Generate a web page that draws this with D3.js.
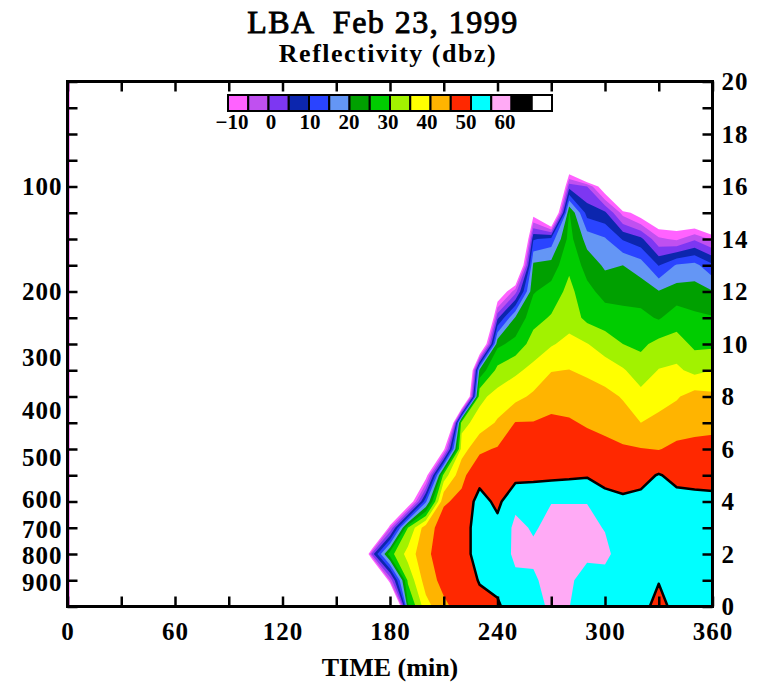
<!DOCTYPE html>
<html>
<head>
<meta charset="utf-8">
<script src="https://cdn.jsdelivr.net/npm/d3@7"></script>
<style>
  body { margin: 0; background: #fff; }
  svg text { font-family: "Liberation Serif", "DejaVu Serif", serif; fill: #000; }
</style>
</head>
<body>
<svg width="758" height="685"></svg>
<script>
// scan times (min), one reflectivity profile per scan
var times = [160, 170, 180, 190, 200, 210, 220, 230, 240, 250, 260, 270, 280, 290, 300, 310, 320, 330, 340, 350, 360]
// profile levels (km)
var heights = [0, 1, 2, 3, 4, 5, 6, 7, 8, 9, 10, 11, 12, 13, 14, 15, 16, 17]

// dbz from the ground up, null = no echo (levels past the end have no echo too)
var profiles = [
  [],
  [null, null, 2.5],
  [null, -4, 28, -5],
  [24, 31, 37, 30, -20],
  [38, 42.5, 44, 43, 14, -14],
  [44, 46.5, 47.5, 47, 44.5, 32, -12],
  [47, 47.5, 48, 48, 46, 44, 37.5, 33.3, -46],
  [48.5, 50.3, 52, 52, 52, 48, 44.2, 37, 33.7, 21.4, -31],
  [49.5, 51, 52, 51.5, 48.8, 46.8, 45.4, 40.6, 36.8, 31.4, 23.75, 3.9, -19],
  [52, 54, 56, 56, 54, 48.3, 47.3, 45.2, 38.5, 34, 26.7, 20.6, -2, -35],
  [53, 54.4, 55.8, 54.6, 52, 49.3, 47.4, 45.2, 40.9, 36.4, 32.1, 28.2, 24.6, 21.1, 9.4, -13.4],
  [56, 56.5, 57, 56, 54.9, 48.8, 47, 46, 43, 39.8, 34.5, 30.5, 27, 22, 12, -35],
  [55.1, 55.8, 56.5, 56, 54.9, 49.1, 47.5, 45.5, 43, 40.1, 36.5, 32.75, 31.5, 29, 27, 25.4, 3, -25],
  [52.5, 53, 56, 56, 54.9, 49.5, 47, 44.5, 42.5, 39, 35.2, 28.7, 26.5, 23, 18, 8, 0],
  [52.5, 53.5, 56, 54.8, 51.5, 48.5, 46.5, 43.5, 41.5, 37.5, 32.6, 27.4, 23.2, 19.2, 15.5, 6, -16],
  [52, 52.5, 53, 52.5, 50.8, 48, 45.6, 42.3, 39.6, 35.5, 30, 26.5, 23.2, 20, 9.5, -7],
  [52, 52.5, 53, 52.5, 51.2, 48.6, 45.2, 40, 36.4, 32.5, 28.9, 26.3, 22.7, 17.5, 6.4, -14],
  [48, 50.3, 52.5, 53, 52, 50.3, 44.8, 41.2, 38.3, 35.2, 31.5, 24.5, 20.3, 9.7, -4, -20],
  [52, 52.5, 53, 52.5, 51.5, 48.75, 46, 42.8, 39.5, 35.9, 32.2, 27.5, 22.1, 15.6, -6, -19],
  [52, 52.5, 53, 52.5, 51.2, 48.6, 46.2, 43.6, 42, 33.6, 28.9, 25.9, 22.2, 16.6, -0.8, -24],
  [52, 52, 52.5, 52, 51, 48.5, 46.3, 43.9, 41.1, 35, 28.9, 25.4, 20.3, 11, -6, -33]
]

var levels = [-10, -5, 0, 5, 10, 15, 20, 25, 30, 35, 40, 45, 50, 55, 60, 65]
var levelColors = ['#ff62ff', '#c050f0', '#7d37f2', '#0c26ae', '#2a44ff', '#6496f5', '#00a000', '#00cc00',
                   '#a2f200', '#ffff00', '#ffb400', '#ff2800', '#00ffff', '#ffaaf5', '#000000', '#ffffff']
var barLabels = [-10, 0, 10, 20, 30, 40, 50, 60]

var kmTicks = [0, 1, 2, 3, 4, 5, 6, 7, 8, 9, 10, 11, 12, 13, 14, 15, 16, 17, 18, 19, 20]
var timeTicks = [0, 30, 60, 90, 120, 150, 180, 210, 240, 270, 300, 330, 360]
var timeLabels = [0, 60, 120, 180, 240, 300, 360]
var pressures = [100, 200, 300, 400, 500, 600, 700, 800, 900]
var pressureHeights = [16.0, 12.0, 9.5, 7.45, 5.66, 4.06, 2.95, 1.96, 0.9]

var noEcho = -60

var svg = d3.select('svg')
var x = d3.scaleLinear().domain([0, 360]).range([67.5, 712.5])
var y = d3.scaleLinear().domain([0, 20]).range([606.5, 81.5])

// grid for the contour generator, x (time) runs fastest
var nx = times.length, ny = heights.length
var values = []
for (var j = 0; j < ny; j++) {
    for (var i = 0; i < nx; i++) {
        var v = profiles[i][j]
        values.push(v == null ? noEcho : v)
    }
}
function at(i, j) { return values[j * nx + i] }

var gridX = d3.scaleLinear().domain(d3.range(nx)).range(times)
var gridY = d3.scaleLinear().domain(d3.range(ny)).range(heights)

// unsmoothed marching-squares points sit half way along a cell edge,
// put them where the level really crosses that edge
function edgePoint(p, level) {
    var X = p[0], Y = p[1], xi, yi, a, b
    if (X % 1 === 0 && Y % 1 !== 0) {
        yi = Y - 0.5
        if (X <= 0) xi = 0
        else if (X >= nx) xi = nx - 1
        else { a = at(X - 1, yi); b = at(X, yi); xi = X - 1 + (level - a) / (b - a) }
    } else if (Y % 1 === 0 && X % 1 !== 0) {
        xi = X - 0.5
        if (Y <= 0) yi = 0
        else if (Y >= ny) yi = ny - 1
        else { a = at(xi, Y - 1); b = at(xi, Y); yi = Y - 1 + (level - a) / (b - a) }
    } else {
        xi = Math.max(0, Math.min(nx - 1, X - 0.5))
        yi = Math.max(0, Math.min(ny - 1, Y - 0.5))
    }
    return [x(gridX(xi)), y(gridY(yi))]
}

function shapePath(c) {
    return c.coordinates.map(function(poly){
        return poly.map(function(ring){
            return 'M' + ring.map(function(p){ return edgePoint(p, c.value) }).join('L') + 'Z'
        }).join('')
    }).join('')
}

var contours = d3.contours().size([nx, ny]).smooth(false).thresholds(levels)(values)

svg.append('clipPath').attr('id', 'plot')
    .append('rect')
    .attr('x', x(0)).attr('y', y(20))
    .attr('width', x(360) - x(0)).attr('height', y(0) - y(20))

var field = svg.append('g').attr('clip-path', 'url(#plot)')

field.selectAll('path.band')
    .data(contours)
    .enter()
    .append('path')
    .attr('class', 'band')
    .attr('d', shapePath)
    .attr('fill', function(d, i){ return levelColors[i] })
    .attr('fill-rule', 'evenodd')

// 50 dbz outline
field.append('path')
    .datum(contours.filter(function(c){ return c.value === 50 })[0])
    .attr('d', shapePath)
    .attr('fill', 'none')
    .attr('stroke', '#000')
    .attr('stroke-width', 2.5)
    .attr('stroke-linejoin', 'round')

// thin echo strip at time 0
field.append('rect')
    .attr('x', x(0)).attr('y', y(20))
    .attr('width', x(1.2) - x(0)).attr('height', y(0) - y(20))
    .attr('fill', levelColors[0])

function styleAxis(g) {
    g.attr('font-family', '"Liberation Serif", serif')
        .attr('font-size', 25)
        .attr('font-weight', 'bold')
    g.select('.domain').remove()
    g.selectAll('.tick line').attr('stroke', '#000').attr('stroke-width', 2.5)
    g.selectAll('.tick text').attr('fill', '#000').style('letter-spacing', '1px')
}

svg.append('g')
    .attr('transform', `translate(0, ${y(0)})`)
    .call(d3.axisBottom(x).tickValues(timeTicks).tickSize(-10).tickPadding(16)
        .tickFormat(function(d){ return timeLabels.indexOf(d) >= 0 ? d : '' }))
    .call(styleAxis)

svg.append('g')
    .attr('transform', `translate(0, ${y(20)})`)
    .call(d3.axisTop(x).tickValues(timeTicks).tickSize(-10).tickFormat(''))
    .call(styleAxis)

svg.append('g')
    .attr('transform', `translate(${x(0)}, 0)`)
    .call(d3.axisLeft(y).tickValues(kmTicks).tickSize(-10).tickFormat(''))
    .call(styleAxis)

svg.append('g')
    .attr('transform', `translate(${x(0)}, 0)`)
    .call(d3.axisLeft(y).tickValues(pressureHeights).tickSize(0).tickPadding(5)
        .tickFormat(function(d, i){ return pressures[i] }))
    .call(styleAxis)

svg.append('g')
    .attr('transform', `translate(${x(360)}, 0)`)
    .call(d3.axisRight(y).tickValues(kmTicks).tickSize(-10).tickPadding(9)
        .tickFormat(function(d){ return d % 2 ? '' : d }))
    .call(styleAxis)

svg.append('rect')
    .attr('x', x(0)).attr('y', y(20))
    .attr('width', x(360) - x(0)).attr('height', y(0) - y(20))
    .attr('fill', 'none')
    .attr('stroke', '#000')
    .attr('stroke-width', 3)

// colour bar
var bar = d3.scaleBand().domain(levels).range([228, 552])
var barText = d3.scaleLinear().domain([-10, 60]).range([232, 505])

svg.append('g')
    .selectAll('rect')
    .data(levels)
    .enter()
    .append('rect')
    .attr('x', function(d){ return bar(d) })
    .attr('y', 95)
    .attr('width', bar.bandwidth())
    .attr('height', 16)
    .attr('fill', function(d, i){ return levelColors[i] })
    .attr('stroke', '#000')
    .attr('stroke-width', 2)

svg.append('g')
    .selectAll('text')
    .data(barLabels)
    .enter()
    .append('text')
    .attr('x', function(d){ return barText(d) })
    .attr('y', 129)
    .attr('text-anchor', 'middle')
    .attr('font-size', 21)
    .attr('font-weight', 'bold')
    .text(function(d){ return d < 0 ? '\u2212' + (-d) : d })

svg.append('text')
    .attr('x', 383).attr('y', 33)
    .attr('text-anchor', 'middle')
    .attr('font-size', 32)
    .attr('stroke', '#000').attr('stroke-width', 0.9)
    .style('white-space', 'pre')
    .style('letter-spacing', '1.5px')
    .text('LBA  Feb 23, 1999')

svg.append('text')
    .attr('x', 388).attr('y', 62)
    .attr('text-anchor', 'middle')
    .attr('font-size', 26)
    .attr('font-weight', 'bold')
    .style('letter-spacing', '1.5px')
    .text('Reflectivity (dbz)')

svg.append('text')
    .attr('x', 390).attr('y', 676)
    .attr('text-anchor', 'middle')
    .attr('font-size', 26)
    .attr('font-weight', 'bold')
    .text('TIME (min)')
</script>
</body>
</html>
